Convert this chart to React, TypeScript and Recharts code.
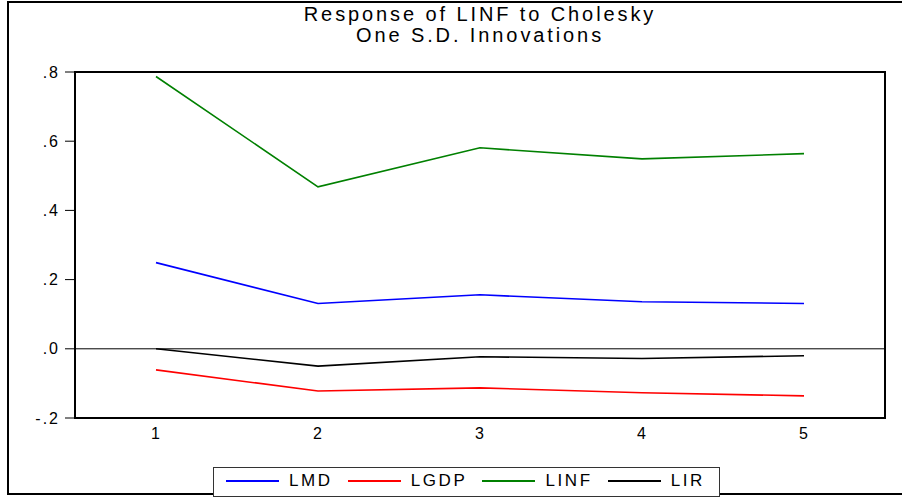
import React from "react";
import { LineChart, Line, XAxis, YAxis, ReferenceLine, ReferenceArea } from "recharts";

const periods = [1, 2, 3, 4, 5];
const lmd = [0.249, 0.131, 0.156, 0.136, 0.131];
const lgdp = [-0.061, -0.122, -0.113, -0.127, -0.136];
const linf = [0.787, 0.468, 0.581, 0.549, 0.564];
const lir = [0.0, -0.05, -0.023, -0.028, -0.02];

const xLabelTicks = [1, 2, 3, 4, 5];
const xMarkTicks = [0.5, 1.5, 2.5, 3.5, 4.5, 5.5];
const yTicks = [-0.2, 0, 0.2, 0.4, 0.6, 0.8];

const seriesNames = ["LMD", "LGDP", "LINF", "LIR"];
const seriesColors = ["#0000FF", "#FF0000", "#008000", "#000000"];

const data = periods.map((p, i) => ({
  x: p,
  LMD: lmd[i],
  LGDP: lgdp[i],
  LINF: linf[i],
  LIR: lir[i],
}));

const FONT = "'Liberation Sans', Arial, sans-serif";

const fmtY = (v: number) => {
  if (Math.abs(v) < 1e-9) return ".0";
  return v.toFixed(1).replace("0.", ".");
};

export default function App() {
  return (
    <div style={{ position: "absolute", left: 0, top: 0, width: 902, height: 498, background: "#fff", overflow: "hidden" }}>
      <div
        style={{
          position: "absolute",
          left: 7,
          top: 1,
          width: 895,
          height: 494,
          boxSizing: "border-box",
          borderTop: "2px solid #000",
          borderLeft: "2px solid #000",
          borderBottom: "2px solid #000",
        }}
      />
      <div
        style={{
          position: "absolute",
          left: 75,
          top: 4,
          width: 810,
          textAlign: "center",
          fontFamily: FONT,
          fontSize: 20,
          lineHeight: "21px",
          letterSpacing: 2.9,
          color: "#000",
        }}
      >
        <div>Response of LINF to Cholesky</div>
        <div>One S.D. Innovations</div>
      </div>
      <div style={{ position: "absolute", left: 0, top: 0 }}>
        <LineChart width={902} height={498} data={data} margin={{ top: 72, right: 17, left: 8, bottom: 78 }}>
          <XAxis
            xAxisId="marks"
            dataKey="x"
            type="number"
            domain={[0.5, 5.5]}
            ticks={xMarkTicks}
            height={1}
            stroke="#000"
            axisLine={false}
            tickLine={true}
            tickSize={8}
            tick={false}
          />
          <XAxis
            dataKey="x"
            type="number"
            domain={[0.5, 5.5]}
            ticks={xLabelTicks}
            height={1}
            stroke="#000"
            axisLine={false}
            tickLine={false}
            tickSize={0}
            tickMargin={10}
            tick={{ fontSize: 16, fill: "#000", fontFamily: FONT, letterSpacing: 1 }}
          />
          <YAxis
            type="number"
            domain={[-0.2, 0.8]}
            ticks={yTicks}
            width={67}
            stroke="#000"
            axisLine={false}
            tickLine={true}
            tickSize={10}
            tickMargin={5}
            tickFormatter={fmtY}
            tick={{ fontSize: 16, fill: "#000", fontFamily: FONT, letterSpacing: 2 }}
          />
          <ReferenceLine y={0} stroke="#000" strokeWidth={1} />
          {seriesNames.map((name, i) => (
            <Line
              key={name}
              dataKey={name}
              stroke={seriesColors[i]}
              strokeWidth={1.6}
              dot={false}
              activeDot={false}
              isAnimationActive={false}
              type="linear"
            />
          ))}
          <ReferenceArea
            x1={0.5}
            x2={5.5}
            y1={-0.2}
            y2={0.8}
            fill="none"
            fillOpacity={0}
            stroke="#000"
            strokeWidth={2}
            ifOverflow="visible"
          />
        </LineChart>
      </div>
      <div
        style={{
          position: "absolute",
          left: 213,
          top: 467,
          width: 507,
          height: 30,
          boxSizing: "border-box",
          border: "1px solid #333",
          background: "#fff",
          display: "flex",
          alignItems: "flex-start",
          paddingLeft: 12,
          paddingTop: 3,
          fontFamily: FONT,
          fontSize: 17,
          letterSpacing: 2.6,
          color: "#000",
        }}
      >
        {seriesNames.map((name, i) => (
          <div key={name} style={{ display: "flex", alignItems: "center", marginRight: 15, height: 20 }}>
            <div style={{ width: 53, height: 2, background: seriesColors[i], marginRight: 10 }} />
            <span style={{ lineHeight: "20px" }}>{name}</span>
          </div>
        ))}
      </div>
    </div>
  );
}
